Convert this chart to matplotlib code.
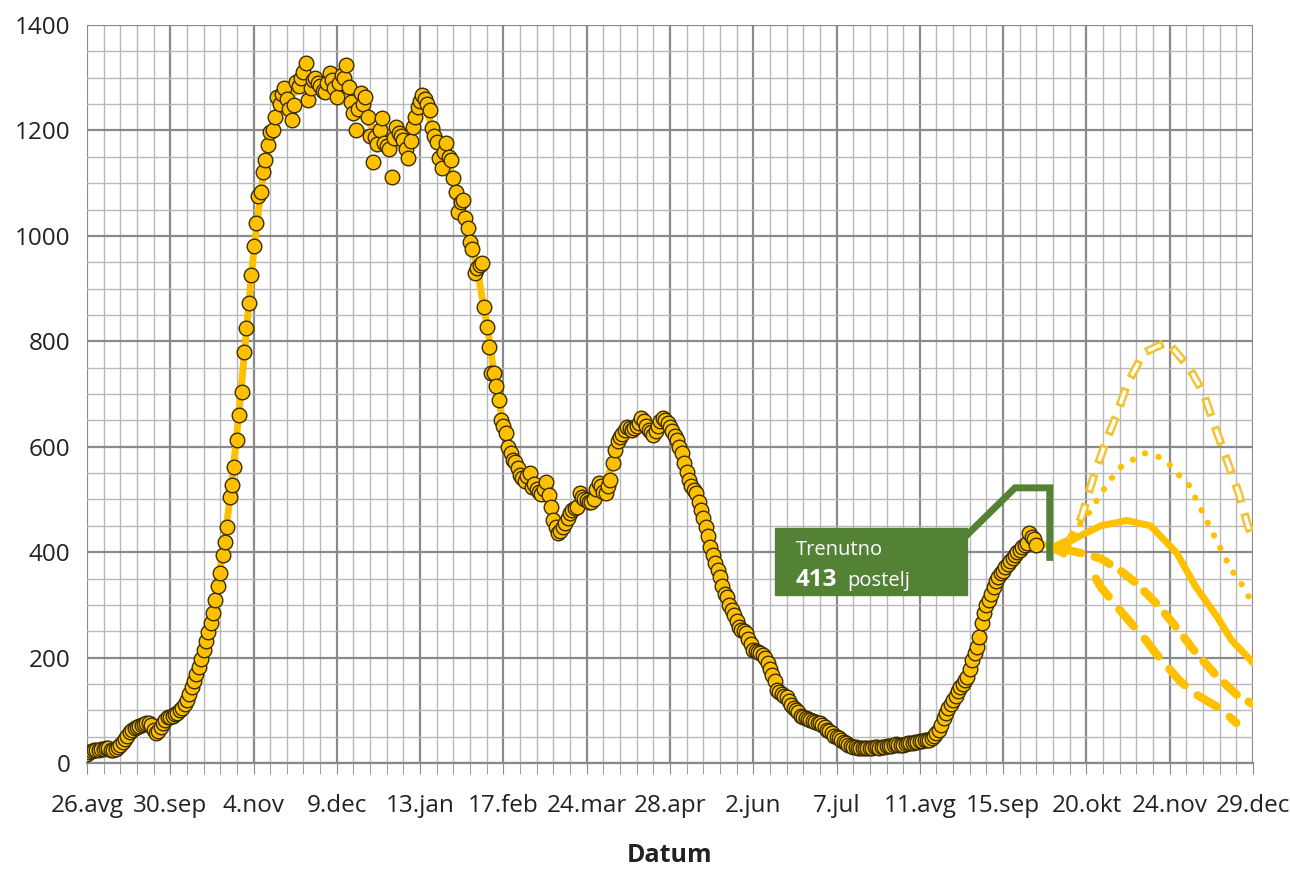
import numpy as np
import pandas as pd
import matplotlib
matplotlib.use('Agg')
import matplotlib.pyplot as plt

plt.rcParams['font.family'] = ['Liberation Sans Narrow', 'Open Sans', 'DejaVu Sans']
plt.rcParams['lines.scale_dashes'] = False

# hospitalised patients, one value per day from 26.avg 2020
beds = [
    18, 20, 22, 24, 25, 25, 26, 27, 28, 28,
    25, 25, 27, 30, 35, 40, 45, 52, 58, 63,
    66, 68, 70, 72, 74, 75, 76, 72, 62, 57,
    60, 68, 75, 82, 87, 88, 90, 93, 95, 100,
    105, 112, 120, 130, 144, 155, 168, 182, 198, 215,
    232, 248, 265, 285, 310, 335, 360, 395, 420, 448,
    505, 527, 562, 613, 660, 704, 780, 825, 873, 926,
    980, 1025, 1075, 1083, 1121, 1144, 1172, 1197, 1200, 1226,
    1264, 1250, 1270, 1281, 1260, 1240, 1220, 1248, 1292, 1285,
    1300, 1310, 1328, 1258, 1280, 1295, 1300, 1290, 1285, 1275,
    1273, 1290, 1309, 1295, 1280, 1264, 1290, 1305, 1300, 1324,
    1283, 1254, 1233, 1201, 1240, 1271, 1250, 1264, 1226, 1190,
    1140, 1188, 1175, 1200, 1224, 1176, 1170, 1165, 1112, 1185,
    1207, 1195, 1190, 1182, 1165, 1148, 1180, 1207, 1225, 1245,
    1255, 1267, 1260, 1250, 1239, 1205, 1190, 1179, 1148, 1129,
    1160, 1176, 1150, 1144, 1110, 1083, 1046, 1065, 1068, 1034,
    1015, 989, 975, 930, 940, 945, 949, 865, 827, 789,
    740, 740, 715, 689, 651, 640, 626, 600, 588, 575,
    571, 560, 546, 540, 535, 545, 550, 524, 530, 520,
    515, 510, 520, 533, 509, 486, 461, 448, 436, 440,
    448, 455, 465, 474, 480, 484, 486, 512, 505, 500,
    498, 496, 495, 500, 520, 531, 525, 515, 512, 525,
    537, 569, 594, 610, 619, 625, 632, 638, 635, 632,
    635, 640, 645, 654, 648, 640, 632, 628, 622, 630,
    640, 648, 654, 650, 645, 638, 630, 620, 613, 600,
    588, 570, 552, 537, 525, 518, 512, 495, 480, 465,
    448, 430, 410, 395, 379, 366, 353, 335, 320, 315,
    300, 290, 280, 270, 258, 252, 250, 247, 235, 225,
    214, 212, 210, 209, 205, 199, 190, 178, 167, 155,
    139, 135, 130, 127, 125, 118, 110, 105, 101, 96,
    90, 87, 85, 83, 82, 80, 78, 76, 76, 72,
    68, 63, 60, 56, 52, 50, 47, 44, 40, 37,
    34, 32, 30, 30, 29, 29, 28, 28, 28, 29,
    29, 30, 30, 29, 30, 31, 32, 32, 33, 35,
    36, 35, 34, 35, 36, 37, 38, 38, 40, 40,
    41, 42, 43, 44, 44, 48, 52, 57, 63, 72,
    85, 95, 105, 112, 120, 128, 136, 144, 150, 157,
    163, 178, 195, 208, 220, 239, 266, 285, 300, 309,
    320, 334, 345, 353, 360, 365, 372, 378, 384, 389,
    394, 400, 404, 410, 414, 417, 436, 428, 425, 413,
]

# scenarios (day index, beds)
sc_mid_x = [405, 409, 417, 426, 437, 447, 458, 466, 475, 481, 489, 490]
sc_mid_y = [408, 410, 430, 450, 460, 450, 398, 334, 277, 233, 195, 190]
sc_dot_x = [410, 415, 421, 429, 434, 444, 449, 454, 458, 463, 469, 475, 481, 486, 490]
sc_dot_y = [412, 440, 474, 531, 560, 588, 584, 571, 550, 528, 474, 419, 366, 334, 300]
sc_high_x = [410, 414, 418, 423, 428, 433, 437, 444, 454, 463, 469, 474, 479, 484, 488, 490]
sc_high_y = [410, 430, 467, 543, 607, 664, 717, 778, 799, 751, 704, 638, 575, 512, 448, 430]
sc_low_x = [411, 418, 426, 434, 441, 450, 458, 466, 475, 484, 490]
sc_low_y = [405, 398, 388, 366, 341, 300, 256, 209, 164, 126, 112]
sc_vlow_x = [424, 426, 435, 445, 449, 459, 465, 477, 483]
sc_vlow_y = [350, 334, 285, 233, 209, 157, 133, 101, 76]

tick_days = [0, 35, 70, 105, 140, 175, 210, 245, 280, 315, 350, 385, 420, 455, 490]
tick_labels = ['26.avg', '30.sep', '4.nov', '9.dec', '13.jan', '17.feb', '24.mar',
               '28.apr', '2.jun', '7.jul', '11.avg', '15.sep', '20.okt', '24.nov', '29.dec']

YEL = '#FFC000'
GREEN = '#548235'

fig = plt.figure(figsize=(12.9, 8.72), dpi=100)
ax = fig.add_axes([0.0674, 0.125, 0.9039, 0.8463])

days = np.arange(len(beds))
smooth = pd.Series(beds).rolling(9, center=True, min_periods=1).mean()

# grid
ax.set_xticks(np.arange(0, 491, 7), minor=True)
ax.set_yticks(np.arange(0, 1401, 50), minor=True)
ax.grid(which='minor', color='#b8b8b8', lw=1.0, zorder=0)
ax.grid(which='major', color='#8a8a8a', lw=1.6, zorder=0)

ax.plot(days, smooth, color=YEL, lw=5, zorder=2, solid_capstyle='round')
ax.plot([days[-1], 405], [smooth.iloc[-1], 408], color=YEL, lw=4, zorder=2)
ax.plot(days, beds, 'o', ms=10.5, mfc=YEL, mec='#3a2e00', mew=1.0, zorder=3)

# scenarios
ax.plot(sc_high_x, sc_high_y, color='#F2C230', lw=6, linestyle=(0, (14, 8)), zorder=2)
ax.plot(sc_high_x, sc_high_y, color='white', lw=2.5, linestyle=(20, (10, 12)), zorder=2)
ax.plot(sc_dot_x, sc_dot_y, color=YEL, lw=4.5, linestyle=(0, (0.1, 10)), dash_capstyle='round', zorder=2)
ax.plot(sc_mid_x, sc_mid_y, color=YEL, lw=5, zorder=2, solid_capstyle='round')
ax.plot(sc_low_x, sc_low_y, color=YEL, lw=6, linestyle=(0, (12, 10)), dash_capstyle='round', zorder=2)
ax.plot(sc_vlow_x, sc_vlow_y, color=YEL, lw=6, linestyle=(0, (16, 12)), dash_capstyle='round', zorder=2)
ax.annotate('', xy=(401, 408), xytext=(414, 408),
            arrowprops=dict(arrowstyle='-|>', color=YEL, lw=4, mutation_scale=25), zorder=4)

# callout
ax.add_patch(plt.Rectangle((289, 319), 80.7, 127, color=GREEN, zorder=5))
ax.plot([369.7, 390, 404.6, 404.6], [432, 522, 522, 390], color=GREEN, lw=5,
        solid_joinstyle='miter', zorder=5)
ax.text(298, 405, 'Trenutno', color='white', fontsize=14.5, va='center',
        family=['Open Sans', 'DejaVu Sans'], zorder=6)
ax.text(298, 348, '413', color='white', fontsize=17.5, fontweight='bold', va='center',
        family=['Open Sans', 'DejaVu Sans'], zorder=6)
ax.text(319.5, 345, 'postelj', color='white', fontsize=14.5, va='center',
        family=['Open Sans', 'DejaVu Sans'], zorder=6)

ax.set_xlim(0, 490)
ax.set_ylim(0, 1400)
ax.set_xticks(tick_days)
ax.set_xticklabels(tick_labels)
ax.set_yticks(np.arange(0, 1401, 200))
ax.tick_params(axis='both', which='major', labelsize=17.5, length=0, colors='#222222', pad=12)
ax.tick_params(axis='x', which='minor', length=8, color='#8a8a8a', direction='out')
ax.tick_params(axis='x', which='major', length=8, color='#8a8a8a', direction='out', pad=14)
ax.tick_params(axis='y', which='minor', length=0)
for s in ['top', 'right', 'left']:
    ax.spines[s].set_visible(False)
ax.spines['bottom'].set_color('#8a8a8a')
ax.spines['bottom'].set_linewidth(1.6)
ax.set_xlabel('Datum', fontsize=18, fontweight='bold', labelpad=18, color='#222222')

fig.savefig('out.png', dpi=100)
